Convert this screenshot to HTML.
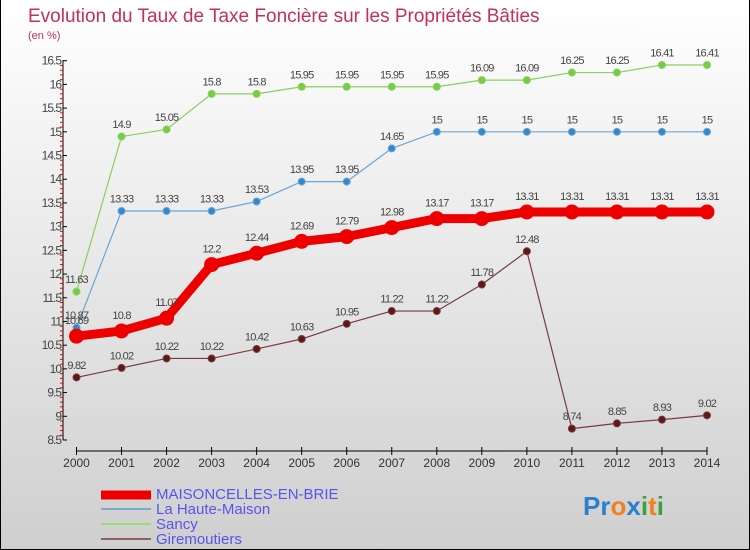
<!DOCTYPE html>
<html><head><meta charset="utf-8"><style>
body{margin:0}
#c{width:750px;height:550px;position:relative;overflow:hidden;background:linear-gradient(#ffffff,#cfcfcf);box-sizing:border-box;border:1px solid #000;border-top:none;font-family:"Liberation Sans",sans-serif}
</style></head><body>
<div id="c">
<svg width="750" height="550" style="position:absolute;left:0;top:0" id="svg">
<text x="27" y="22" font-size="19" fill="#c2305c">Evolution du Taux de Taxe Foncière sur les Propriétés Bâties</text>
<text x="27" y="39" font-size="11" fill="#c2305c">(en %)</text>
<g id="axes"></g><g id="series"></g>
<g>
<line x1="100" y1="495" x2="150" y2="495" stroke="#ee0000" stroke-width="9"/>
<text x="155" y="499" font-size="15" fill="#5555ee">MAISONCELLES-EN-BRIE</text>
<line x1="100" y1="509" x2="150" y2="509" stroke="#7aaad0" stroke-width="2"/>
<text x="155" y="514" font-size="15" fill="#5555ee">La Haute-Maison</text>
<line x1="100" y1="524" x2="150" y2="524" stroke="#99dd77" stroke-width="2"/>
<text x="155" y="529" font-size="15" fill="#5555ee">Sancy</text>
<line x1="100" y1="539" x2="150" y2="539" stroke="#8a6060" stroke-width="2"/>
<text x="155" y="544" font-size="15" fill="#5555ee">Giremoutiers</text>
</g>
<text x="582" y="515" font-size="26" font-weight="bold"><tspan fill="#2a7fd0">Pr</tspan><tspan fill="#f08020">o</tspan><tspan fill="#2a7fd0">x</tspan><tspan fill="#40a040">i</tspan><tspan fill="#f08020">t</tspan><tspan fill="#40a040">i</tspan></text>
</svg>
</div>
<script>
const years=[2000,2001,2002,2003,2004,2005,2006,2007,2008,2009,2010,2011,2012,2013,2014];
const maisoncelles=[10.69,10.8,11.07,12.2,12.44,12.69,12.79,12.98,13.17,13.17,13.31,13.31,13.31,13.31,13.31];
const hauteMaison=[10.87,13.33,13.33,13.33,13.53,13.95,13.95,14.65,15,15,15,15,15,15,15];
const sancy=[11.63,14.9,15.05,15.8,15.8,15.95,15.95,15.95,15.95,16.09,16.09,16.25,16.25,16.41,16.41];
const giremoutiers=[9.82,10.02,10.22,10.22,10.42,10.63,10.95,11.22,11.22,11.78,12.48,8.74,8.85,8.93,9.02];
const yTicks=[8.5,9,9.5,10,10.5,11,11.5,12,12.5,13,13.5,14,14.5,15,15.5,16,16.5];
const NS="http://www.w3.org/2000/svg";
function X(i){return 75.5+i*(706-75.5)/(years.length-1);}
function Y(v){return 440-(v-8.5)*(440-60.7)/8;}
function mk(t,a,p){const e=document.createElementNS(NS,t);for(const k in a)e.setAttribute(k,a[k]);p.appendChild(e);return e;}
const ax=document.getElementById('axes');
const yl=mk('line',{x1:62,y1:60,x2:62,y2:440,stroke:'#000'},ax);


const xl=mk('line',{x1:75.5,y1:451,x2:706,y2:451,stroke:'#000'},ax);


yTicks.forEach((v,i)=>{
 mk('line',{x1:62,y1:Y(v),x2:66,y2:Y(v),stroke:'#000'},ax);
 if(i<yTicks.length-1){for(let k=1;k<5;k++){const yy=Y(v+0.1*k);mk('line',{x1:59,y1:yy,x2:62,y2:yy,stroke:'#e00'},ax);}}
 const t=mk('text',{x:60,y:Y(v)+4,'font-size':12,fill:'#444','text-anchor':'end','letter-spacing':'-1'},ax);
 t.textContent=v;
 
 
});
years.forEach((yr,i)=>{
 mk('line',{x1:X(i),y1:447,x2:X(i),y2:455,stroke:'#000'},ax);
 const t=mk('text',{x:X(i),y:467,'font-size':12,fill:'#333','text-anchor':'middle'},ax);
 t.textContent=yr;
 
 
});
const sg=document.getElementById('series');
function draw(vals,color,lw,r,name,dot){
 const g=mk('g',{},sg);
 
 
 mk('polyline',{points:vals.map((v,i)=>X(i)+','+Y(v)).join(' '),fill:'none',stroke:color,'stroke-width':lw,'stroke-linejoin':'round'},g);
 vals.forEach((v,i)=>{
  const c=mk('circle',{cx:X(i),cy:Y(v),r:r,fill:dot,stroke:color,'stroke-width':1},g);
  
  
  const t=mk('text',{x:X(i),y:Y(v)-r-5,'font-size':11,fill:'#444','text-anchor':'middle','letter-spacing':'-0.8'},g);
  t.textContent=v;
  
  
 });
}
draw(giremoutiers,'#7a3a3a',1.2,3.5,'giremoutiers','#5a1a1a');
draw(sancy,'#88d060',1.2,3.5,'sancy','#77cc44');
draw(hauteMaison,'#6aa6d6',1.2,3.5,'haute-maison','#3388cc');
draw(maisoncelles,'#ee0000',9,7,'maisoncelles','#ee0000');
</script>
</body></html>
